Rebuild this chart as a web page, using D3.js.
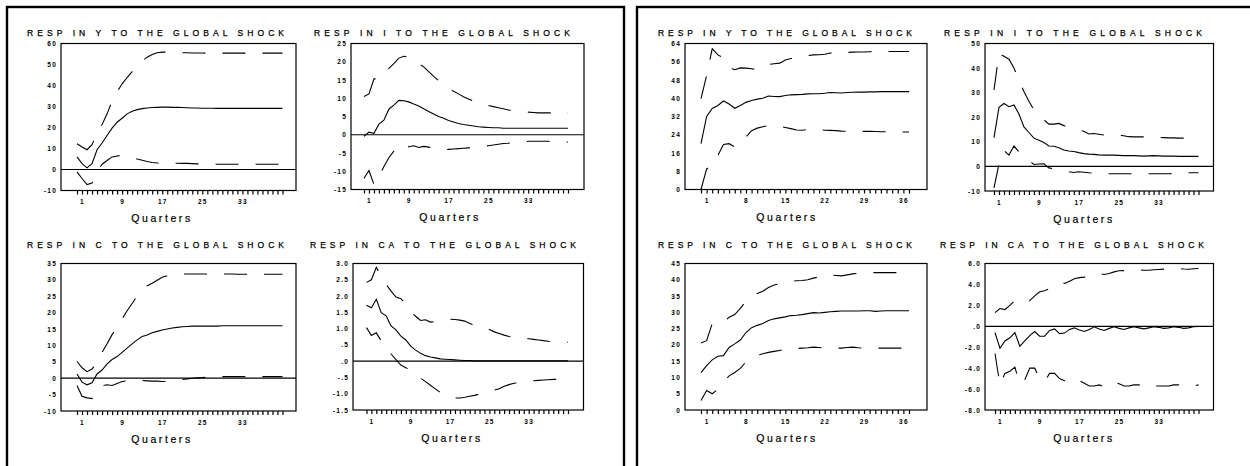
<!DOCTYPE html>
<html>
<head>
<meta charset="utf-8">
<script src="https://cdn.jsdelivr.net/npm/d3@7"></script>
<style>
  body { margin: 0; background: #fff; }
  text { font-family: 'Liberation Sans', Arial, sans-serif; fill: #000; }
</style>
</head>
<body>
<svg id="chart" width="1250" height="466"></svg>
<script>
// x-axis tick labels
const qEvery8 = [1, 9, 17, 25, 33];
const qEvery7 = [1, 8, 15, 22, 29, 36];

// y-axis tick values
const lYTicks = [-10, 0, 10, 20, 30, 40, 50, 60];
const lITicks = [-15, -10, -5, 0, 5, 10, 15, 20, 25];
const lCTicks = [-10, -5, 0, 5, 10, 15, 20, 25, 30, 35];
const lCATicks = [-1.5, -1.0, -0.5, 0, 0.5, 1.0, 1.5, 2.0, 2.5, 3.0];
const rYTicks = [0, 8, 16, 24, 32, 40, 48, 56, 64];
const rITicks = [-10, 0, 10, 20, 30, 40, 50];
const rCTicks = [0, 5, 10, 15, 20, 25, 30, 35, 40, 45];
const rCATicks = [-8, -6, -4, -2, 0, 2, 4, 6];

// left panel: response of Y
const lY_mid = [6.0, 2.8, 0.8, 2.8, 9.4, 12.6, 16.2, 19.7, 22.5, 24.4, 26.5, 27.7, 28.5, 29.0, 29.3, 29.5, 29.6, 29.7, 29.7, 29.6, 29.6, 29.5, 29.4, 29.3, 29.3, 29.2, 29.2, 29.2, 29.1, 29.1, 29.1, 29.1, 29.1, 29.1, 29.1, 29.1, 29.1, 29.1, 29.1, 29.1, 29.1, 29.1];
const lY_hi = [12.3, 10.7, 9.4, 11.8, 17.5, 21.4, 26.5, 32.5, 37.0, 40.8, 43.8, 46.6, 49.3, 51.7, 53.5, 54.8, 55.6, 55.9, 55.9, 55.8, 55.7, 55.6, 55.6, 55.5, 55.5, 55.5, 55.4, 55.4, 55.4, 55.4, 55.4, 55.4, 55.4, 55.4, 55.4, 55.4, 55.4, 55.4, 55.4, 55.4, 55.4, 55.4];
const lY_lo = [-1.1, -4.3, -7.2, -6.5, -1.0, 2.5, 4.3, 6.0, 6.4, 6.8, 6.3, 5.7, 5.0, 4.4, 3.8, 3.3, 3.1, 3.0, 3.0, 3.0, 3.0, 2.9, 2.9, 2.8, 2.7, 2.6, 2.6, 2.5, 2.5, 2.5, 2.5, 2.5, 2.5, 2.5, 2.5, 2.5, 2.5, 2.5, 2.5, 2.5, 2.5, 2.5];

// left panel: response of I
const lI_mid = [-0.4, 0.7, 0.4, 2.9, 4.0, 7.0, 8.1, 9.4, 9.3, 9.0, 8.4, 7.9, 7.1, 6.4, 5.7, 5.0, 4.5, 3.9, 3.5, 3.1, 2.8, 2.6, 2.4, 2.2, 2.1, 2.0, 1.9, 1.9, 1.8, 1.8, 1.8, 1.8, 1.8, 1.8, 1.8, 1.8, 1.8, 1.8, 1.8, 1.8, 1.8, 1.8];
const lI_hi = [10.5, 11.2, 15.3, 15.3, 17.0, 18.2, 19.5, 21.0, 21.5, 21.3, 20.6, 19.5, 18.6, 17.3, 16.0, 14.8, 13.9, 12.8, 11.9, 11.2, 10.4, 9.8, 9.2, 8.8, 8.4, 8.0, 7.7, 7.4, 7.1, 6.8, 6.6, 6.4, 6.3, 6.2, 6.1, 6.0, 6.0, 6.0, 6.0, 6.0, 6.0, 6.0];
const lI_lo = [-11.9, -9.8, -13.6, -11.5, -8.7, -6.3, -4.5, -2.8, -3.0, -3.3, -3.0, -3.5, -3.2, -3.4, -3.7, -4.0, -4.1, -4.0, -3.9, -3.8, -3.7, -3.6, -3.5, -3.4, -3.2, -3.0, -2.8, -2.6, -2.4, -2.3, -2.1, -2.0, -1.9, -1.8, -1.8, -1.8, -1.8, -1.8, -1.9, -1.9, -2.0, -2.0];

// left panel: response of C
const lC_mid = [1.3, -1.2, -2.0, -1.4, 1.3, 2.5, 4.4, 5.7, 6.6, 7.9, 9.2, 10.5, 11.7, 12.7, 13.2, 13.9, 14.3, 14.7, 15.0, 15.3, 15.5, 15.7, 15.8, 15.9, 15.9, 15.9, 15.9, 15.9, 15.9, 16.0, 16.0, 16.0, 16.0, 16.0, 16.0, 16.0, 16.0, 16.0, 16.0, 16.0, 16.0, 16.0];
const lC_hi = [5.1, 3.2, 2.0, 2.8, 5.0, 7.9, 10.5, 13.3, 15.5, 18.1, 20.6, 22.8, 25.1, 27.2, 28.2, 29.0, 29.9, 30.8, 31.3, 31.5, 31.7, 31.8, 31.8, 31.8, 31.8, 31.8, 31.8, 31.8, 31.8, 31.8, 31.8, 31.8, 31.7, 31.7, 31.7, 31.7, 31.7, 31.7, 31.7, 31.7, 31.7, 31.7];
const lC_lo = [-2.2, -5.5, -6.0, -6.2, -4.0, -2.3, -2.0, -2.2, -1.6, -1.0, -0.8, -0.7, -0.7, -0.7, -0.8, -0.9, -0.9, -1.0, -0.9, -0.8, -0.6, -0.4, -0.2, 0.0, 0.1, 0.2, 0.3, 0.4, 0.5, 0.5, 0.5, 0.5, 0.5, 0.5, 0.5, 0.5, 0.5, 0.5, 0.5, 0.5, 0.5, 0.5];

// left panel: response of CA
const lCA_mid = [1.72, 1.64, 1.90, 1.49, 1.39, 1.08, 0.96, 0.77, 0.65, 0.46, 0.34, 0.24, 0.17, 0.13, 0.10, 0.07, 0.06, 0.05, 0.04, 0.03, 0.02, 0.02, 0.01, 0.01, 0.01, 0.01, 0.01, 0.01, 0.01, 0.01, 0.01, 0.01, 0.01, 0.01, 0.01, 0.01, 0.01, 0.01, 0.01, 0.01, 0.01, 0.01];
const lCA_hi = [2.42, 2.50, 2.88, 2.60, 2.36, 2.15, 1.97, 1.92, 1.75, 1.50, 1.38, 1.25, 1.27, 1.20, 1.22, 1.25, 1.28, 1.29, 1.28, 1.26, 1.23, 1.16, 1.10, 1.05, 1.00, 0.97, 0.90, 0.85, 0.80, 0.76, 0.73, 0.71, 0.70, 0.69, 0.67, 0.65, 0.63, 0.61, 0.60, 0.59, 0.58, 0.58];
const lCA_lo = [1.03, 0.79, 0.87, 0.62, 0.40, 0.22, 0.05, -0.12, -0.20, -0.28, -0.40, -0.52, -0.63, -0.74, -0.85, -0.96, -1.05, -1.10, -1.13, -1.13, -1.11, -1.08, -1.05, -1.01, -0.97, -0.93, -0.89, -0.85, -0.77, -0.72, -0.68, -0.66, -0.63, -0.61, -0.60, -0.59, -0.58, -0.57, -0.56, -0.56, -0.55, -0.55];

// right panel: response of Y
const rY_mid = [20.1, 32.0, 35.5, 36.8, 38.8, 37.5, 35.6, 36.8, 38.2, 39.0, 39.6, 40.0, 41.0, 40.8, 40.7, 41.2, 41.5, 41.6, 41.7, 41.9, 42.0, 42.0, 42.2, 42.5, 42.4, 42.3, 42.5, 42.6, 42.7, 42.7, 42.8, 42.8, 42.9, 42.9, 42.9, 42.9, 42.9, 42.9];
const rY_hi = [39.8, 50.0, 61.7, 59.0, 57.8, 53.5, 52.5, 53.3, 53.2, 52.9, 52.6, 53.5, 54.8, 55.1, 55.4, 56.8, 57.4, 57.7, 58.2, 58.7, 59.0, 59.1, 59.3, 59.8, 59.9, 60.0, 60.1, 60.2, 60.3, 60.3, 60.4, 60.5, 60.5, 60.5, 60.5, 60.5, 60.5, 60.5];
const rY_lo = [0.0, 9.0, 10.5, 15.0, 19.7, 20.1, 18.7, 20.0, 23.0, 25.8, 26.9, 27.5, 28.1, 28.0, 27.6, 27.2, 26.7, 26.1, 26.0, 26.3, 26.4, 26.2, 26.0, 25.9, 25.8, 25.6, 25.5, 25.5, 25.5, 25.5, 25.5, 25.4, 25.3, 25.3, 25.2, 25.2, 25.2, 25.2];

// right panel: response of I
const rI_mid = [11.7, 24.0, 25.6, 24.3, 25.0, 21.3, 16.1, 13.8, 11.5, 10.6, 9.7, 8.3, 8.2, 7.6, 6.7, 6.3, 6.1, 5.6, 5.2, 5.0, 4.9, 4.7, 4.6, 4.6, 4.6, 4.5, 4.4, 4.4, 4.4, 4.3, 4.2, 4.3, 4.4, 4.3, 4.2, 4.2, 4.2, 4.1, 4.1, 4.1, 4.1, 4.1];
const rI_hi = [31.1, 46.0, 44.8, 43.6, 40.0, 35.0, 30.5, 26.5, 23.0, 20.5, 19.0, 17.2, 17.2, 17.5, 16.6, 16.0, 15.3, 14.8, 14.3, 13.2, 13.4, 13.1, 12.8, 12.8, 12.7, 12.7, 12.5, 12.1, 12.0, 12.0, 12.0, 11.9, 11.8, 11.8, 11.7, 11.6, 11.6, 11.5, 11.5, 11.5, 11.4, 11.4];
const rI_lo = [-8.7, 1.0, 6.5, 4.6, 8.3, 6.0, 4.0, 2.5, 0.8, 1.0, 1.1, -0.6, -1.0, -1.4, -1.8, -2.2, -2.5, -2.2, -2.4, -2.6, -2.7, -2.8, -2.9, -3.0, -3.0, -3.0, -3.0, -3.0, -3.0, -3.0, -3.0, -3.0, -3.0, -3.0, -3.0, -3.0, -2.9, -2.8, -2.7, -2.6, -2.6, -2.6];

// right panel: response of C
const rC_mid = [11.5, 13.6, 15.4, 16.5, 16.7, 19.2, 20.3, 21.5, 23.8, 25.3, 26.0, 26.6, 27.5, 28.0, 28.3, 28.6, 29.0, 29.1, 29.3, 29.6, 29.9, 29.8, 30.0, 30.2, 30.3, 30.4, 30.4, 30.4, 30.4, 30.5, 30.5, 30.3, 30.4, 30.5, 30.5, 30.5, 30.5, 30.5];
const rC_hi = [20.6, 21.3, 26.6, 26.8, 27.0, 28.5, 29.3, 31.2, 33.5, 35.0, 35.8, 36.5, 37.6, 38.4, 38.8, 39.2, 39.5, 39.7, 39.8, 40.0, 40.5, 40.9, 41.2, 41.4, 41.3, 41.2, 41.5, 41.8, 42.0, 42.1, 42.2, 42.2, 42.2, 42.2, 42.2, 42.2, 42.2, 42.2];
const rC_lo = [2.9, 6.0, 5.0, 6.4, 8.5, 10.5, 11.5, 12.8, 14.8, 16.0, 16.8, 17.3, 17.7, 18.0, 18.3, 18.6, 18.8, 18.9, 19.0, 19.1, 19.3, 19.2, 19.0, 19.0, 19.0, 19.0, 19.2, 19.3, 19.1, 19.0, 19.0, 19.0, 19.0, 19.0, 19.0, 19.0, 19.0, 19.0];

// right panel: response of CA
const rCA_mid = [-0.6, -2.1, -1.4, -1.1, -0.6, -1.9, -1.4, -0.9, -0.5, -0.95, -0.95, -0.4, -0.25, -0.7, -0.65, -0.3, -0.15, -0.35, -0.5, -0.3, -0.05, -0.25, -0.4, -0.2, -0.05, -0.2, -0.3, -0.15, -0.05, -0.15, -0.25, -0.15, -0.05, -0.1, -0.2, -0.15, -0.05, -0.1, -0.2, -0.15, -0.05, -0.02];
const rCA_hi = [1.3, 1.7, 1.6, 2.0, 2.45, 2.3, 2.2, 2.45, 2.9, 3.3, 3.4, 3.6, 3.9, 4.15, 4.1, 4.3, 4.55, 4.65, 4.7, 4.85, 5.0, 5.05, 4.95, 5.05, 5.2, 5.3, 5.32, 5.35, 5.37, 5.38, 5.35, 5.36, 5.4, 5.43, 5.46, 5.48, 5.5, 5.52, 5.47, 5.45, 5.5, 5.52];
const rCA_lo = [-2.6, -5.6, -4.5, -4.3, -3.9, -5.5, -5.1, -4.0, -4.0, -5.0, -5.3, -4.5, -4.5, -5.0, -5.2, -5.3, -5.0, -5.2, -5.45, -5.7, -5.7, -5.6, -5.8, -5.6, -5.35, -5.5, -5.7, -5.7, -5.6, -5.6, -5.85, -5.8, -5.7, -5.7, -5.7, -5.7, -5.6, -5.6, -5.7, -5.8, -5.7, -5.6];

// y label formats (plain hyphen minus, no leading zero on decimals)
const fmtInt = d => (d < 0 ? '-' : '') + Math.abs(d).toFixed(0);
const fmtDec = d => (d < 0 ? '-' : '') + Math.abs(d).toFixed(1).replace(/^0\./, '.');

const plots = [
  { title: 'RESP IN Y TO THE GLOBAL SHOCK', mid: lY_mid, hi: lY_hi, lo: lY_lo, yTicks: lYTicks, xLabels: qEvery8, fmt: fmtInt,
    box: [61, 296, 43.5, 190.5], ticks: [77, 282.5], titleX: [27, 284], titleY: 35.5, qX: 162 },
  { title: 'RESP IN I TO THE GLOBAL SHOCK', mid: lI_mid, hi: lI_hi, lo: lI_lo, yTicks: lITicks, xLabels: qEvery8, fmt: fmtInt,
    box: [351, 584, 43.5, 189.5], ticks: [364, 568], titleX: [314, 570], titleY: 35.5, qX: 450 },
  { title: 'RESP IN C TO THE GLOBAL SHOCK', mid: lC_mid, hi: lC_hi, lo: lC_lo, yTicks: lCTicks, xLabels: qEvery8, fmt: fmtInt,
    box: [61, 296, 263.5, 411], ticks: [77, 282.5], titleX: [27, 284], titleY: 247.5, qX: 162 },
  { title: 'RESP IN CA TO THE GLOBAL SHOCK', mid: lCA_mid, hi: lCA_hi, lo: lCA_lo, yTicks: lCATicks, xLabels: qEvery8, fmt: fmtDec,
    box: [353, 583.5, 263.5, 410], ticks: [366.5, 568], titleX: [310, 576], titleY: 247.5, qX: 452 },
  { title: 'RESP IN Y TO THE GLOBAL SHOCK', mid: rY_mid, hi: rY_hi, lo: rY_lo, yTicks: rYTicks, xLabels: qEvery7, fmt: fmtInt,
    box: [685, 927, 43.5, 189.5], ticks: [701, 909], titleX: [658, 912], titleY: 35.5, qX: 787 },
  { title: 'RESP IN I TO THE GLOBAL SHOCK', mid: rI_mid, hi: rI_hi, lo: rI_lo, yTicks: rITicks, xLabels: qEvery8, fmt: fmtInt,
    box: [985, 1213.5, 43.5, 191], ticks: [994, 1198.5], titleX: [944, 1202], titleY: 35.5, qX: 1084 },
  { title: 'RESP IN C TO THE GLOBAL SHOCK', mid: rC_mid, hi: rC_hi, lo: rC_lo, yTicks: rCTicks, xLabels: qEvery7, fmt: fmtInt,
    box: [685, 927, 263.5, 410], ticks: [701, 909], titleX: [658, 912], titleY: 247.5, qX: 787 },
  { title: 'RESP IN CA TO THE GLOBAL SHOCK', mid: rCA_mid, hi: rCA_hi, lo: rCA_lo, yTicks: rCATicks, xLabels: qEvery8, fmt: fmtDec,
    box: [985, 1213.5, 263.5, 410], ticks: [995, 1198.5], titleX: [940, 1204], titleY: 247.5, qX: 1084 }
];

const svg = d3.select('#chart');

// outer panel frames
svg.append('rect').attr('x', 7).attr('y', 7).attr('width', 617).attr('height', 500)
  .attr('fill', 'none').attr('stroke', '#000').attr('stroke-width', 2.4);
svg.append('rect').attr('x', 637).attr('y', 7).attr('width', 700).attr('height', 500)
  .attr('fill', 'none').attr('stroke', '#000').attr('stroke-width', 2.4);

plots.forEach(p => {
  const [bx0, bx1, by0, by1] = p.box;
  const n = p.mid.length;
  const x = d3.scaleLinear().domain([0, n - 1]).range(p.ticks);
  const y = d3.scaleLinear().domain(d3.extent(p.yTicks)).range([by1, by0]);
  const g = svg.append('g');

  g.append('text')
    .attr('x', p.titleX[0])
    .attr('y', p.titleY)
    .attr('textLength', p.titleX[1] - p.titleX[0])
    .attr('lengthAdjust', 'spacing')
    .attr('font-size', '8.5px')
    .attr('stroke', '#000')
    .attr('stroke-width', 0.25)
    .text(p.title);

  const yAxis = g.append('g')
    .attr('transform', `translate(${bx0},0)`)
    .call(d3.axisLeft(y).tickValues(p.yTicks).tickSize(0).tickPadding(4).tickFormat(p.fmt));
  yAxis.select('.domain').remove();
  yAxis.selectAll('text')
    .attr('font-size', '6.5px')
    .attr('font-weight', 'bold')
    .attr('letter-spacing', '1.2px')
    .style('font-family', "'Liberation Sans', Arial, sans-serif");

  const xTicks = g.append('g')
    .attr('transform', `translate(0,${by1})`)
    .call(d3.axisBottom(x).tickValues(d3.range(n)).tickSize(4).tickFormat(''));
  xTicks.select('.domain').remove();
  xTicks.selectAll('line').attr('stroke-width', 1.2);

  const xLab = g.append('g')
    .attr('transform', `translate(0,${by1})`)
    .call(d3.axisBottom(x).tickValues(p.xLabels).tickSize(0).tickPadding(9).tickFormat(d => d));
  xLab.select('.domain').remove();
  xLab.selectAll('text')
    .attr('font-size', '6.5px')
    .attr('font-weight', 'bold')
    .attr('letter-spacing', '1.2px')
    .style('font-family', "'Liberation Sans', Arial, sans-serif");

  g.append('text')
    .attr('x', p.qX)
    .attr('y', by1 + 31.5)
    .attr('text-anchor', 'middle')
    .attr('font-size', '10.5px')
    .attr('letter-spacing', '2.6px')
    .attr('stroke', '#000')
    .attr('stroke-width', 0.2)
    .text('Quarters');

  g.append('rect')
    .attr('x', bx0).attr('y', by0)
    .attr('width', bx1 - bx0).attr('height', by1 - by0)
    .attr('fill', 'none').attr('stroke', '#000').attr('stroke-width', 1.2);

  if (y.domain()[0] < 0 && y.domain()[1] > 0) {
    g.append('line')
      .attr('x1', bx0).attr('x2', bx1)
      .attr('y1', y(0)).attr('y2', y(0))
      .attr('stroke', '#000').attr('stroke-width', 1.2);
  }

  const line = d3.line().x((d, i) => x(i)).y(d => y(d));
  g.append('path').datum(p.mid).attr('d', line)
    .attr('fill', 'none').attr('stroke', '#000').attr('stroke-width', 1.1);
  [p.hi, p.lo].forEach(s => {
    g.append('path').datum(s).attr('d', line)
      .attr('fill', 'none').attr('stroke', '#000').attr('stroke-width', 1.1)
      .attr('stroke-dasharray', '23,17');
  });
});
</script>
</body>
</html>
